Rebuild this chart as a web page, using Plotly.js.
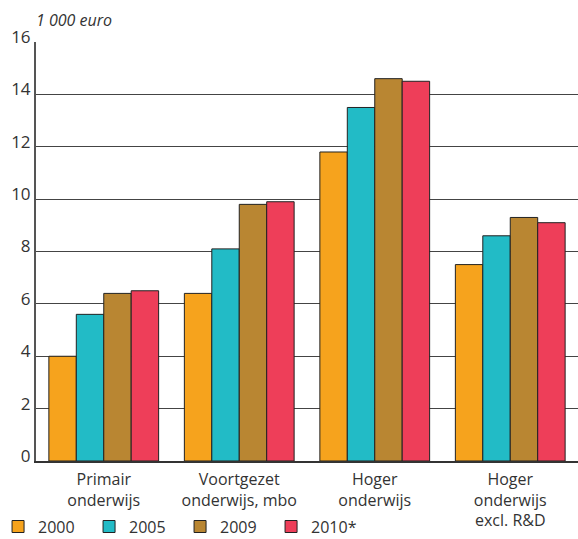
<!DOCTYPE html>
<html><head><meta charset="utf-8">
<script src="https://cdn.plot.ly/plotly-3.0.1.min.js"></script>
<style>body{margin:0;padding:0;background:#fff}#chart{width:578px;height:539px}</style>
</head><body><div id="chart"></div>
<script>
var categories = ["Primair<br>onderwijs", "Voortgezet<br>onderwijs, mbo", "Hoger<br>onderwijs", "Hoger<br>onderwijs<br>excl. R&D"];
var seriesNames = ["2000", "2005", "2009", "2010*"];
var v2000 = [4.0, 6.4, 11.8, 7.5];
var v2005 = [5.6, 8.1, 13.5, 8.6];
var v2009 = [6.4, 9.8, 14.6, 9.3];
var v2010 = [6.5, 9.9, 14.5, 9.1];
var yTicks = [0, 2, 4, 6, 8, 10, 12, 14, 16];
var colors = ["#F6A31D", "#22BBC6", "#B98632", "#EE3E59"];

var values = [v2000, v2005, v2009, v2010];
var traces = values.map(function(v, i){
  return {type:"bar", x:categories, y:v, name:seriesNames[i],
    marker:{color:colors[i], line:{color:"#222", width:1}}};
});
var layout = {
  width:578, height:539,
  margin:{l:36, r:0, t:42, b:78, autoexpand:false},
  paper_bgcolor:"#fff", plot_bgcolor:"#fff",
  font:{family:"Open Sans, Noto Sans, sans-serif", size:16, color:"#333"},
  barmode:"group", bargap:0.19, bargroupgap:0,
  xaxis:{showline:true, linecolor:"#333", linewidth:1.5, ticks:"", ticklabelstandoff:3, automargin:false, tickfont:{size:16, color:"#333"}},
  yaxis:{range:[0,16], tickvals:yTicks, ticktext:yTicks.map(String), showgrid:true, gridcolor:"#444", gridwidth:1,
    showline:true, linecolor:"#555", linewidth:2, ticks:"", ticklabelshift:-5, automargin:false, tickfont:{size:17, color:"#333"}, zeroline:false},
  showlegend:true,
  legend:{orientation:"h", x:-0.07, xanchor:"left", y:-0.116, yanchor:"top", entrywidth:46, entrywidthmode:"pixels",
    bgcolor:"rgba(0,0,0,0)", font:{size:16, color:"#333"}, itemwidth:30, tracegroupgap:0},
  annotations:[{text:"<i>1 000 euro</i>", xref:"paper", yref:"paper", x:-0.003, y:1.0, xanchor:"left", yanchor:"bottom",
    yshift:9, showarrow:false, font:{size:16, color:"#333"}}]
};
Plotly.newPlot("chart", traces, layout, {displayModeBar:false, staticPlot:true});
</script></body></html>
